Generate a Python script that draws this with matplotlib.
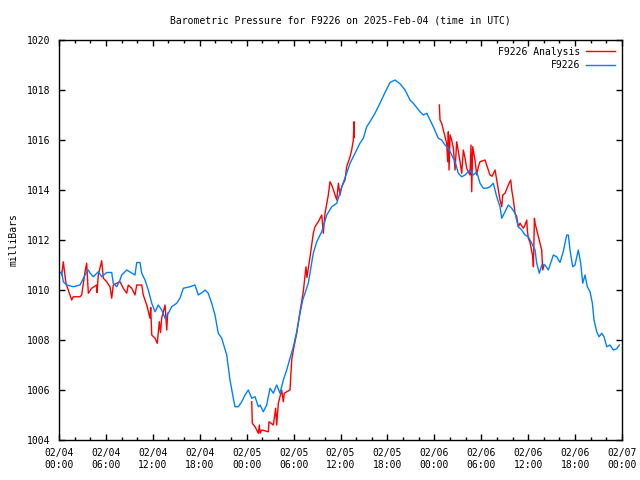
import numpy as np
import matplotlib
matplotlib.use("Agg")
import matplotlib.pyplot as plt
import matplotlib.dates as mdates
from datetime import datetime, timedelta

# Barometric pressure, station F9226, starting 2025-02-04 00:00 UTC
start = datetime(2025, 2, 4)

# F9226 station readings (hours since start, mbar)
station_hours = [0.13, 0.35, 0.55, 0.98, 1.83, 2.69, 2.90, 3.54, 3.75, 3.96, 4.39, 5.03, 5.46,
                 6.10, 6.74, 6.94, 7.38, 7.80, 8.02, 8.66, 9.30, 9.72, 9.94, 10.36, 10.58, 11.00,
                 11.42, 11.86, 12.28, 12.70, 13.13, 13.56, 13.98, 14.41, 15.05, 15.47, 15.90,
                 16.75, 17.39, 17.82, 18.45, 18.67, 19.09, 19.53, 19.95, 20.37, 20.81, 21.45,
                 21.87, 22.29, 22.51, 22.93, 23.37, 23.79, 24.21, 24.65, 25.07, 25.49, 25.71,
                 26.13, 26.56, 26.99, 27.41, 27.84, 28.26, 28.69, 29.12, 29.54, 29.97, 30.40,
                 30.82, 31.17, 31.88, 32.52, 32.96, 33.60, 34.24, 34.88, 35.52, 36.16, 36.79,
                 37.22, 37.86, 38.49, 38.92, 39.35, 39.77, 40.41, 41.05, 41.69, 42.33, 42.97,
                 43.61, 44.25, 44.89, 45.31, 46.17, 46.59, 47.03, 47.45, 47.87, 48.51, 48.94,
                 49.37, 49.79, 50.22, 50.65, 51.07, 51.50, 51.93, 52.56, 52.99, 53.42, 53.84,
                 54.27, 54.70, 55.12, 55.54, 55.98, 56.40, 56.62, 57.04, 57.46, 57.90, 58.32,
                 58.74, 59.18, 59.60, 60.02, 60.45, 60.88, 61.09, 61.43, 61.73, 62.16, 62.58,
                 63.22, 63.65, 64.07, 64.50, 64.93, 65.14, 65.35, 65.70, 65.99, 66.41, 66.72,
                 66.98, 67.27, 67.57, 67.91, 68.21, 68.42, 68.77, 69.06, 69.41, 69.70, 70.05,
                 70.47, 70.89, 71.33, 71.66]
station_mb = [1010.68, 1010.73, 1010.33, 1010.20, 1010.13, 1010.20, 1010.33, 1010.73, 1010.80,
              1010.68, 1010.53, 1010.73, 1010.53, 1010.70, 1010.70, 1010.27, 1010.13, 1010.40,
              1010.60, 1010.80, 1010.68, 1010.60, 1011.10, 1011.10, 1010.67, 1010.40, 1010.00,
              1009.47, 1009.13, 1009.40, 1009.20, 1008.87, 1009.07, 1009.33, 1009.47, 1009.67,
              1010.07, 1010.13, 1010.20, 1009.80, 1009.93, 1010.00, 1009.87, 1009.47, 1009.00,
              1008.27, 1008.07, 1007.40, 1006.40, 1005.67, 1005.33, 1005.33, 1005.53, 1005.80,
              1006.00, 1005.67, 1005.73, 1005.33, 1005.40, 1005.13, 1005.40, 1006.07, 1005.87,
              1006.20, 1005.87, 1006.40, 1006.80, 1007.27, 1007.73, 1008.33, 1009.07, 1009.60,
              1010.27, 1011.47, 1011.93, 1012.33, 1013.00, 1013.33, 1013.47, 1014.13, 1014.67,
              1015.07, 1015.47, 1015.87, 1016.07, 1016.53, 1016.73, 1017.07, 1017.47, 1017.90,
              1018.30, 1018.40, 1018.25, 1018.00, 1017.60, 1017.47, 1017.13, 1017.00, 1017.07,
              1016.80, 1016.53, 1016.07, 1016.00, 1015.80, 1015.67, 1015.40, 1015.13, 1014.67,
              1014.53, 1014.60, 1014.80, 1014.60, 1014.73, 1014.27, 1014.07, 1014.07, 1014.13,
              1014.27, 1013.73, 1013.33, 1012.87, 1013.13, 1013.40, 1013.27, 1013.07, 1012.53,
              1012.40, 1012.20, 1012.13, 1011.87, 1011.60, 1011.07, 1010.67, 1011.00, 1011.00,
              1010.80, 1011.40, 1011.33, 1011.10, 1011.55, 1012.20, 1012.20, 1011.60, 1010.93,
              1011.00, 1011.60, 1011.07, 1010.27, 1010.60, 1010.13, 1009.93, 1009.47, 1008.80,
              1008.33, 1008.13, 1008.27, 1008.13, 1007.73, 1007.80, 1007.60, 1007.65, 1007.80]

# F9226 analysis (NaN marks the gaps)
analysis_hours = [0.35, 0.55, 0.89, 1.19, 1.62, 1.83, 2.69, 2.90, 3.33, 3.54, 3.75, 4.18, 4.82,
                  4.86, 5.03, 5.46, 5.67, 6.10, 6.52, 6.74, 6.94, 7.38, 7.80, 8.22, 8.66, 8.86,
                  9.30, 9.72, 9.94, 10.58, 10.78, 11.22, 11.64, 11.73, 11.86, 12.28, 12.57,
                  12.83, 12.98, 13.13, 13.34, 13.56, 13.78, 13.90,
                  18.0,
                  24.65, 24.72, 25.07, 25.49, 25.62, 25.71, 25.92, 26.77, 26.86, 27.41, 27.71,
                  27.84, 28.05, 28.26, 28.48, 28.69, 28.81, 29.12, 29.54, 29.76, 29.97, 30.40,
                  30.82, 31.24, 31.59, 31.71, 32.11, 32.52, 32.74, 33.16, 33.60, 33.80, 34.02,
                  34.44, 34.66, 34.88, 35.52, 35.73, 35.94, 36.16, 36.58, 36.79, 37.22, 37.43,
                  37.64, 37.73, 37.77,
                  43.0,
                  48.64, 48.73, 48.94, 49.15, 49.58, 49.71, 49.79, 49.88, 50.01, 50.22, 50.43,
                  50.65, 50.86, 51.07, 51.29, 51.50, 51.71, 51.93, 52.14, 52.56, 52.69, 52.78,
                  52.91, 53.20, 53.42, 53.63, 53.84, 54.48, 54.90, 55.12, 55.38, 55.77, 55.98,
                  56.18, 56.40, 56.62, 56.75, 57.04, 57.46, 57.77, 57.90, 58.11, 58.32, 58.54,
                  58.74, 58.96, 59.38, 59.60, 59.82, 59.89, 60.02, 60.24, 60.59, 60.67, 60.80,
                  60.88, 61.31, 61.53, 61.73, 61.86, 62.03]
analysis_mb = [1010.60, 1011.13, 1010.27, 1010.00, 1009.60, 1009.73, 1009.73, 1009.80, 1010.73,
               1011.07, 1009.87, 1010.07, 1010.20, 1009.90, 1010.60, 1011.17, 1010.47, 1010.33,
               1010.13, 1009.67, 1010.20, 1010.27, 1010.33, 1010.07, 1009.87, 1010.20, 1010.07,
               1009.80, 1010.20, 1010.20, 1009.80, 1009.40, 1008.87, 1009.30, 1008.20, 1008.07,
               1007.87, 1008.73, 1008.30, 1008.87, 1009.13, 1009.40, 1008.40, 1009.07,
               np.nan,
               1005.53, 1004.67, 1004.53, 1004.27, 1004.60, 1004.27, 1004.40, 1004.33, 1004.73,
               1004.60, 1005.27, 1004.60, 1005.47, 1005.73, 1006.00, 1005.53, 1005.87, 1005.93,
               1006.00, 1007.20, 1007.60, 1008.27, 1009.13, 1009.93, 1010.93, 1010.50, 1011.33,
               1012.27, 1012.53, 1012.73, 1013.00, 1012.27, 1013.07, 1013.80, 1014.33, 1014.20,
               1013.60, 1014.27, 1013.80, 1014.13, 1014.40, 1014.93, 1015.33, 1015.60, 1016.00,
               1016.73, 1016.10,
               np.nan,
               1017.40, 1016.80, 1016.67, 1016.40, 1015.87, 1015.13, 1016.33, 1014.80, 1016.20,
               1016.00, 1015.67, 1014.80, 1015.93, 1015.53, 1015.13, 1014.67, 1015.60, 1015.27,
               1014.87, 1014.60, 1015.80, 1013.93, 1015.73, 1015.20, 1014.60, 1014.93, 1015.13,
               1015.20, 1014.80, 1014.60, 1014.55, 1014.80, 1014.40, 1014.00, 1013.60, 1013.33,
               1013.80, 1013.87, 1014.20, 1014.40, 1014.00, 1013.60, 1013.07, 1012.93, 1012.53,
               1012.67, 1012.47, 1012.60, 1012.80, 1012.40, 1012.07, 1011.90, 1011.33, 1010.93,
               1012.87, 1012.67, 1012.13, 1011.87, 1011.60, 1010.80, 1011.00]

plt.rcParams['font.family'] = ['DejaVu Sans Mono']
plt.rcParams['font.size'] = 7

station_t = [start + timedelta(hours=h) for h in station_hours]
analysis_t = [start + timedelta(hours=h) for h in analysis_hours]

fig = plt.figure(figsize=(6.4, 4.8), dpi=100)
ax = fig.add_axes([59 / 640, 40 / 480, 563 / 640, 400 / 480])

ax.plot(analysis_t, analysis_mb, color='#ff0000', lw=1.0, label='F9226 Analysis')
ax.plot(station_t, station_mb, color='#0080ff', lw=1.0, label='F9226')

ax.set_xlim(start, start + timedelta(hours=72))
ax.set_ylim(1004, 1020)
ax.set_yticks(np.arange(1004, 1021, 2))
ax.xaxis.set_major_locator(mdates.HourLocator(byhour=range(0, 24, 6)))
ax.xaxis.set_minor_locator(mdates.HourLocator(byhour=range(0, 24, 2)))
ax.xaxis.set_major_formatter(mdates.DateFormatter('%m/%d\n%H:%M'))

ax.tick_params(which='both', direction='in', top=True, right=True, width=1)
ax.tick_params(which='major', length=4.5, pad=6)
ax.tick_params(which='minor', length=2.2)
for s in ax.spines.values():
    s.set_linewidth(1)

ax.set_ylabel('milliBars', labelpad=6)
ax.set_title('Barometric Pressure for F9226 on 2025-Feb-04 (time in UTC)', fontsize=7, pad=12)

ax.legend(loc='upper right', frameon=False, markerfirst=False, handlelength=3.0,
          borderaxespad=0.3, labelspacing=0.35, handletextpad=0.6)

fig.savefig('out.png', dpi=100)
